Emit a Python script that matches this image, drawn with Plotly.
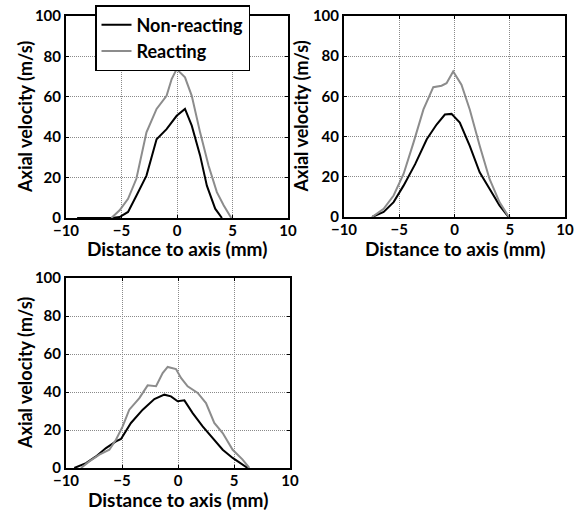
import plotly.graph_objects as go

# Axial velocity profiles (m/s) versus radial distance to the burner axis (mm)
# Panel 1
p1_nonreact_x = [-9.0, -5.9, -5.17, -4.41, -3.66, -2.75, -1.84, -0.94, -0.03, 0.72, 1.33, 2.08, 2.69, 3.44, 4.05]
p1_nonreact_y = [0.0, 0.0, 0.5, 3.0, 11.0, 21.0, 39.0, 44.0, 50.6, 54.0, 45.7, 31.0, 16.0, 4.6, 0.0]
p1_react_x = [-5.92, -5.17, -4.41, -3.66, -2.75, -1.84, -0.94, -0.48, -0.03, 0.72, 1.33, 2.08, 2.84, 3.59, 4.2, 4.89]
p1_react_y = [0.0, 3.8, 9.5, 19.4, 42.4, 54.0, 60.5, 68.8, 73.7, 69.6, 60.5, 42.4, 26.0, 12.8, 6.3, 0.0]

# Panel 2
p2_nonreact_x = [-7.46, -6.41, -5.51, -4.61, -3.56, -2.51, -1.62, -0.87, -0.27, 0.48, 1.38, 2.28, 3.17, 4.07, 4.82, 5.0]
p2_nonreact_y = [0.0, 2.5, 7.4, 15.6, 26.3, 38.7, 46.0, 51.0, 51.3, 47.0, 35.4, 22.2, 14.0, 5.8, 0.5, 0.0]
p2_react_x = [-7.46, -6.41, -5.51, -4.61, -3.71, -2.81, -1.92, -1.17, -0.72, -0.12, 0.63, 1.38, 2.28, 3.17, 4.07, 4.82, 5.0]
p2_react_y = [0.0, 4.1, 10.7, 21.4, 37.0, 53.5, 64.6, 65.3, 66.6, 72.4, 65.8, 53.5, 35.4, 18.9, 7.4, 0.8, 0.0]

# Panel 3
p3_nonreact_x = [-9.26, -8.21, -7.32, -6.43, -5.54, -5.09, -4.2, -3.15, -2.11, -1.22, -0.63, -0.03, 0.57, 1.31, 2.2, 3.1, 3.99, 4.88, 5.77, 6.22]
p3_nonreact_y = [0.0, 2.6, 6.1, 10.5, 14.0, 15.3, 23.7, 30.7, 36.3, 38.6, 37.7, 35.1, 35.6, 28.9, 21.9, 15.8, 9.6, 5.3, 1.8, 0.0]
p3_react_x = [-8.66, -7.92, -7.02, -6.13, -5.54, -4.94, -4.35, -3.45, -2.71, -1.96, -1.37, -0.92, -0.18, 0.27, 0.86, 1.76, 2.5, 3.24, 3.99, 4.88, 5.77, 6.37]
p3_react_y = [0.0, 3.5, 7.0, 9.6, 14.9, 21.9, 30.7, 36.8, 43.5, 43.0, 50.0, 53.2, 52.1, 47.4, 43.0, 39.5, 34.2, 23.7, 18.4, 9.6, 4.4, 0.0]

series_names = ["Non-reacting", "Reacting"]
x_ticks = [-10, -5, 0, 5, 10]
y_ticks = [0, 20, 40, 60, 80, 100]
x_title = "Distance to axis (mm)"
y_title = "Axial velocity (m/s)"

W, H = 584, 511
FONT = "Lato"
BLACK = "#000000"
GREY = "#8c8c8c"

panels = [
    (p1_nonreact_x, p1_nonreact_y, p1_react_x, p1_react_y),
    (p2_nonreact_x, p2_nonreact_y, p2_react_x, p2_react_y),
    (p3_nonreact_x, p3_nonreact_y, p3_react_x, p3_react_y),
]

# plot-area boxes in pixels: (left, right, top, bottom)
boxes = [(66, 288, 16, 218), (344, 565, 16, 217), (66, 290, 278, 468)]
# centre of the x title below each panel and of the y title left of it (px)
xtitle_y = [249, 248, 499]
ytitle_x = [25, 301, 25]

fig = go.Figure()
for i, (nx, ny, rx, ry) in enumerate(panels):
    suffix = "" if i == 0 else str(i + 1)
    fig.add_trace(go.Scatter(x=nx, y=ny, mode="lines", name=series_names[0],
                             line=dict(color=BLACK, width=2),
                             xaxis="x" + suffix, yaxis="y" + suffix,
                             showlegend=(i == 0)))
    fig.add_trace(go.Scatter(x=rx, y=ry, mode="lines", name=series_names[1],
                             line=dict(color=GREY, width=2),
                             xaxis="x" + suffix, yaxis="y" + suffix,
                             showlegend=(i == 0)))

tick_font = dict(family=FONT, size=15, color=BLACK, weight="bold")
xtitle_font = dict(family=FONT, size=19, color=BLACK, weight="bold")
ytitle_font = dict(family=FONT, size=18, color=BLACK, weight="bold")

annotations = []
for i, (l, r, t, b) in enumerate(boxes):
    suffix = "" if i == 0 else str(i + 1)
    common = dict(showline=True, linecolor=BLACK, linewidth=2, mirror="ticks",
                  ticks="inside", ticklen=3, tickcolor=BLACK, tickwidth=1,
                  showgrid=True, gridcolor="#8a8a8a", griddash="1px,1px", gridwidth=1,
                  zeroline=False, tickfont=tick_font, automargin=False)
    fig.layout["xaxis" + suffix] = dict(
        domain=[l / W, r / W], range=[-10, 10], tickvals=x_ticks,
        anchor="y" + suffix, ticklabelstandoff=-2, **common)
    fig.layout["yaxis" + suffix] = dict(
        domain=[1 - b / H, 1 - t / H], range=[0, 100], tickvals=y_ticks,
        anchor="x" + suffix, ticklabelstandoff=0, **common)
    annotations.append(dict(text=x_title, font=xtitle_font, showarrow=False,
                            xref="paper", yref="paper",
                            x=(l + r) / 2 / W, y=1 - xtitle_y[i] / H,
                            xanchor="center", yanchor="middle"))
    annotations.append(dict(text=y_title, font=ytitle_font, showarrow=False,
                            textangle=-90, xref="paper", yref="paper",
                            x=ytitle_x[i] / W, y=1 - (t + b) / 2 / H,
                            xanchor="center", yanchor="middle"))

fig.update_layout(
    width=W, height=H,
    margin=dict(l=0, r=0, t=0, b=0, autoexpand=False),
    paper_bgcolor="white", plot_bgcolor="white",
    annotations=annotations,
    legend=dict(x=95 / W, y=1 - 5 / H, xanchor="left", yanchor="top",
                bgcolor="white", bordercolor=BLACK, borderwidth=1.5,
                font=dict(family=FONT, size=18, color=BLACK, weight="bold"),
                tracegroupgap=0),
)

fig.write_html("out.html")
